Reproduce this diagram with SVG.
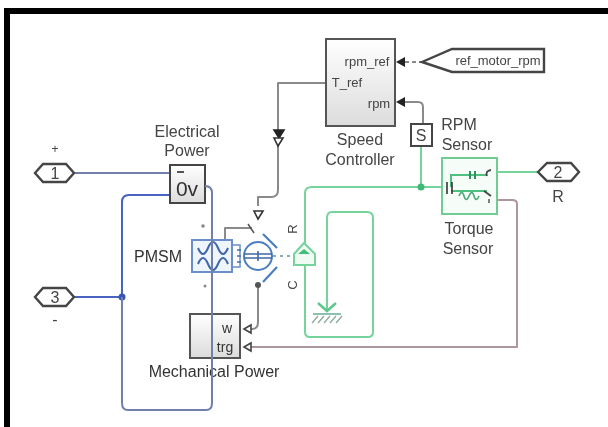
<svg xmlns="http://www.w3.org/2000/svg" width="608" height="427" viewBox="0 0 608 427">
<defs>
<filter id="b" x="-5%" y="-5%" width="110%" height="110%"><feGaussianBlur stdDeviation="0.7"/></filter>
<linearGradient id="g" x1="0" y1="0" x2="0" y2="1"><stop offset="0" stop-color="#fff"/><stop offset="1" stop-color="#dcdcdc"/></linearGradient>
</defs>
<style>
.t{font-family:"Liberation Sans",Arial,sans-serif;font-size:16px;fill:#444;text-anchor:middle}
.s{font-size:13px}
.w{fill:none;stroke-width:2;stroke-linejoin:round}
.el{stroke:#6f80aa}.bl{stroke:#4a63c0}.gr{stroke:#77d39c}.gy{stroke:#8a8a8a}.mr{stroke:#ad979c}
.port{fill:#fff;stroke:#444;stroke-width:2.400}
.blk{stroke:#555;stroke-width:2}
</style>
<rect width="608" height="427" fill="#fff"/>
<g filter="url(#b)">
<g id="connectors">
<path class="w el" d="M75 173H171"/>
<path class="w bl" d="M122 297V202Q122 195 129 195H171"/>
<path class="w bl" d="M75 297H122"/>
<path class="w gy" d="M326 83H278V131"/>
<path class="w gy" d="M278 146V190Q278 197 271 197H258V206"/>
<path class="w gy" d="M225 240V228H252"/>
<path class="w gy" d="M258 285V322Q258 329 252 329H246"/>
<path class="w mr" d="M246 347H517V204Q517 200 512 200H490"/>
<path class="w gr" d="M305 243V193Q305 187 312 187H446"/>
<path class="w gr" d="M305 265V332Q305 337 310 337H368Q373 337 373 332V218Q373 212 367 212H332Q327 212 327 218V312"/>
<path class="w gr" d="M421 147V187"/>
<path class="w gy" d="M423 123V107Q423 102 418 102H404"/>
<path class="w gy" d="M405 62H421" stroke-dasharray="4 3"/>
<path class="w gr" d="M490 172H537"/>
<path d="M273 256H293" fill="none" stroke="#8ab" stroke-width="2" stroke-dasharray="3 4"/>
<circle cx="122" cy="297" r="3.500" fill="#3a55b5"/>
<circle cx="421" cy="187" r="3.500" fill="#3fb878"/>
</g>
<g id="in1"><path class="port" d="M35 173L43 164H66L74 173L66 182H43Z"/><text class="t" x="55" y="179">1</text><text class="t" x="55" y="153" style="font-size:12px">+</text></g>
<g id="in3"><path class="port" d="M35 297L43 288H66L74 297L66 306H43Z"/><text class="t" x="55" y="303">3</text><text class="t" x="55" y="325">-</text></g>
<g id="out2"><path class="port" d="M538 172L547 163H571L579 172L571 181H547Z"/><text class="t" x="558" y="178">2</text><text class="t" x="558" y="202">R</text></g>
<g id="ref"><path class="port" d="M422 62L452 49H544V72H452Z"/><text class="t s" x="498" y="65">ref_motor_rpm</text><path d="M396 62L405 57V67Z" fill="#222"/></g>
<g id="speed"><rect x="326" y="39" width="69" height="87" fill="url(#g)" class="blk"/><text class="t s" x="367" y="66">rpm_ref</text><text class="t s" x="347" y="87">T_ref</text><text class="t s" x="379" y="108">rpm</text><path d="M396 102L405 97V107Z" fill="#222"/><text class="t" x="360" y="145">Speed</text><text class="t" x="360" y="165">Controller</text></g>
<g id="rpm"><rect x="411" y="124" width="21" height="22" fill="#fff" stroke="#444" stroke-width="2"/><text class="t" x="421" y="141">S</text><text class="t" x="459" y="130">RPM</text><text class="t" x="467" y="150">Sensor</text></g>
<g id="elec"><rect x="170" y="165" width="35" height="38" fill="url(#g)" stroke="#444" stroke-width="2"/><text class="t" x="187" y="196" style="font-size:21px;fill:#333">0v</text><path d="M177 172H184" stroke="#555" stroke-width="2"/><text class="t" x="187" y="137">Electrical</text><text class="t" x="187" y="156">Power</text></g>
<g id="inv"><path d="M274 130H284L279 138Z" fill="#222" stroke="#222" stroke-width="1.600"/><path d="M274 138H283L278 146Z" fill="#fff" stroke="#333" stroke-width="1.600"/><path d="M254 211H263L258 219Z" fill="#fff" stroke="#333" stroke-width="1.600"/></g>
<g id="pmsm"><text class="t" x="158" y="262" style="fill:#333">PMSM</text><rect x="192" y="240" width="40" height="32" fill="#eef5fc" stroke="#6a8fc8" stroke-width="2"/><path d="M198 248Q203 260 208 248T218 248T228 248M198 264Q203 252 208 264T218 264T228 264" fill="none" stroke="#3f67a8" stroke-width="2"/><path d="M233 245H240V267H233" fill="none" stroke="#6a8fc8" stroke-width="1.500"/><path d="M237 250H241M237 256H241M237 262H241" stroke="#456fb0" stroke-width="1.500"/><circle cx="258" cy="256" r="14" fill="#fff" stroke="#4a7fc0" stroke-width="2"/><path d="M244 254H272M244 258H272M258 251V261" stroke="#3f67a8" stroke-width="1.600"/><path d="M263 234L277 248M263 282L277 267" stroke="#4a7fc0" stroke-width="2.200"/><path d="M248 224L254 233" stroke="#555" stroke-width="1.500"/><circle cx="258" cy="285" r="3" fill="#555"/><circle cx="203" cy="226" r="1.800" fill="#888"/><circle cx="205" cy="286" r="1.500" fill="#888"/></g>
<g id="sensor"><path d="M294 254L304 243L315 254V265H294Z" fill="#f0fbf4" stroke="#77d39c" stroke-width="2"/><path d="M298 254L304 249L310 254Z" fill="#3fbf78"/><text class="t" x="297" y="229" transform="rotate(-90 297 229)" style="font-size:13px">R</text><text class="t" x="297" y="285" transform="rotate(-90 297 285)" style="font-size:13px">C</text></g>
<g id="ground"><path d="M318 303L327 311L336 303" fill="none" stroke="#5cc98c" stroke-width="2.500"/><path d="M313 314H341" stroke="#6a9" stroke-width="1.500"/><path d="M312 323L318 316M318 323L324 316M324 323L330 316M330 323L336 316M336 323L342 316" stroke="#8a9" stroke-width="1.200"/></g>
<g id="torque"><rect x="442" y="158" width="55" height="56" fill="#f6fdf8" stroke="#6fcb95" stroke-width="2"/><path d="M451 187V175H487M451 191H487" fill="none" stroke="#4fc080" stroke-width="2"/><path d="M475 171V179M470 171V179" stroke="#2f9060" stroke-width="2"/><path d="M459 196q3-7 5 0t5 0t5 0t5 0" fill="none" stroke="#48a878" stroke-width="1.600"/><path d="M447 182V194M452 182V194" stroke="#333" stroke-width="1.600"/><path d="M491 170q-6 1-4 6M484 191L491 196" fill="none" stroke="#444" stroke-width="1.800"/><path d="M489 199V203" stroke="#555" stroke-width="1.500"/><text class="t" x="469" y="234">Torque</text><text class="t" x="468" y="254">Sensor</text></g>
<g id="mech"><rect x="190" y="314" width="50" height="44" fill="url(#g)" stroke="#555" stroke-width="2"/><text class="t" x="227" y="333" style="fill:#333;font-size:14px">w</text><text class="t" x="225" y="352" style="fill:#333;font-size:14px">trg</text><path d="M244 329L251 325V333ZM244 347L251 343V351Z" fill="#fff" stroke="#444" stroke-width="1.600"/><text class="t" x="214" y="377" style="fill:#333">Mechanical Power</text></g>
<g id="wire-over"><path class="w el" d="M205 186Q212 186 212 193V403Q212 410 206 410H128Q122 410 122 403V297"/></g>
<path d="M4 427V8H608V14H10V427Z" fill="#000"/>
</g>
</svg>
